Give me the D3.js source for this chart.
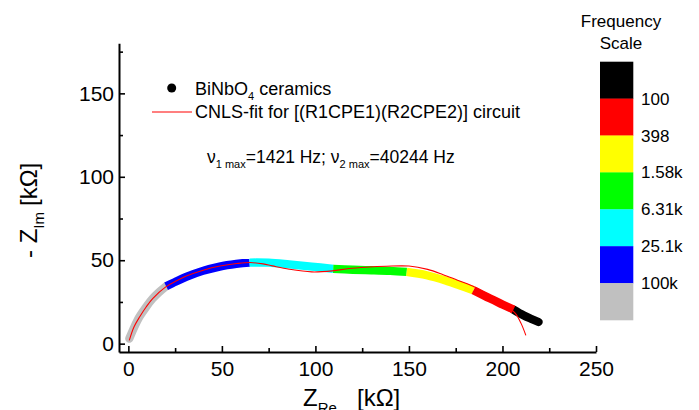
<!DOCTYPE html>
<html><head><meta charset="utf-8">
<script src="https://cdn.jsdelivr.net/npm/d3@7"></script>
<style>
body{margin:0;background:#fff;}
svg{display:block;font-family:"Liberation Sans",Arial,sans-serif;}
</style></head>
<body><svg id="c" width="699" height="410"></svg>
<script>
// ---- data ----
const zRe = [0.5,3.2,5.9,9.5,13,16.6,20.2, 25.5,30.9,39.8,48.8,57.7,64.8, 75,86,98,109.5, 120,130,140,148.8, 159.5,170.2,177,184.5, 193.4,200,205.9, 211.2,215.5,219.3];
const zIm = [3,10,16,22,27,31,34.4, 37.3,40,43.6,46.2,47.8,48.6, 48.5,47.5,46.2,44.8, 44.3,44,43.6,43, 41,37.6,35,32, 27,23.5,20.4, 17,14.8,13];
const band = [0,0,0,0,0,0,0, 1,1,1,1,1,1, 2,2,2,2, 3,3,3,3, 4,4,4,4, 5,5,5, 6,6,6];
const fitRe = [0.5,3,6,9.5,13,20,25.5,31,40,49,58,65,72,77,86,98,109,118,127,138,150,160,168,176,183,190,197,203,207,210,212.5];
const fitIm = [2,10,16,22,27,34,37.5,40.5,44,46.5,48,48.6,47.8,46.6,44.6,43,43.6,45,45.8,46.4,46.5,44.5,41.5,38,35,31,26.5,22,18,12,5];
const bandColors = ["#c0c0c0","#0000ff","#00ffff","#00ff00","#ffff00","#ff0000","#000000"];
const scaleColors = ["#000000","#ff0000","#ffff00","#00ff00","#00ffff","#0000ff","#c0c0c0"];
const scaleLabels = ["100","398","1.58k","6.31k","25.1k","100k"];
const xMajor = [0,50,100,150,200,250];
const xMinor = [25,75,125,175,225];
const yMajor = [0,50,100,150];
const yMinor = [25,75,125,175];

const svg = d3.select("#c");
const x = d3.scaleLinear().domain([-5,250]).range([119,596]);
const y = d3.scaleLinear().domain([-5,180]).range([352,43.3]);

// axes
const gx = svg.append("g").attr("transform","translate(0,352)");
gx.call(d3.axisBottom(x).tickValues(xMajor).tickSizeInner(-6).tickSizeOuter(0).tickPadding(9).tickFormat(d3.format("d")));
const gxm = svg.append("g").attr("transform","translate(0,352)");
gxm.call(d3.axisBottom(x).tickValues(xMinor).tickSizeInner(-4).tickSizeOuter(0).tickFormat(""));
gxm.select(".domain").remove();
const gy = svg.append("g").attr("transform","translate(119,0)");
gy.call(d3.axisLeft(y).tickValues(yMajor).tickSizeInner(-6).tickSizeOuter(0).tickPadding(5).tickFormat(d3.format("d")));
const gym = svg.append("g").attr("transform","translate(119,0)");
gym.call(d3.axisLeft(y).tickValues(yMinor).tickSizeInner(-4).tickSizeOuter(0).tickFormat(""));
gym.select(".domain").remove();
svg.selectAll(".domain").attr("stroke","#000").attr("stroke-width",2);
svg.selectAll(".tick line").attr("stroke","#000").attr("stroke-width",1.6);
svg.selectAll(".tick text").attr("font-size",21).attr("fill","#000").attr("font-family","Liberation Sans, Arial, sans-serif");

// data bands
const pts = zRe.map((v,i)=>({x:v,y:zIm[i],b:band[i]}));
const line = d3.line().x(d=>x(d.x)).y(d=>y(d.y)).curve(d3.curveCatmullRom);
const order = [0,1,2,3,4,6,5];
order.forEach(k=>{
  const seg = pts.filter(p=>p.b===k);
  const prev = pts.filter(p=>p.b===k-1);
  if(prev.length) seg.unshift(prev[prev.length-1]);
  svg.append("path").attr("d",line(seg)).attr("fill","none")
    .attr("stroke",bandColors[k]).attr("stroke-width",8.3)
    .attr("stroke-linecap",(k===0||k===6)?"round":"butt");
});

// fit
const fitPts = fitRe.map((v,i)=>({x:v,y:fitIm[i]}));
svg.append("path").attr("d",line(fitPts)).attr("fill","none").attr("stroke","#ff0000").attr("stroke-width",1.1);

// legend
svg.append("circle").attr("cx",171.7).attr("cy",88).attr("r",4.5).attr("fill","#000");
const t1 = svg.append("text").attr("x",195).attr("y",95).attr("font-size",18);
t1.append("tspan").text("BiNbO");
t1.append("tspan").attr("font-size",11).attr("dy",5).text("4");
t1.append("tspan").attr("dy",-5).text(" ceramics");
svg.append("line").attr("x1",152).attr("x2",192).attr("y1",112).attr("y2",112).attr("stroke","#ff0000").attr("stroke-width",1.1);
svg.append("text").attr("x",195).attr("y",118).attr("font-size",18).text("CNLS-fit for [(R1CPE1)(R2CPE2)] circuit");

// annotation
const an = svg.append("text").attr("x",207).attr("y",163).attr("font-size",17.5);
an.append("tspan").text("\u03bd");
an.append("tspan").attr("font-size",11).attr("dy",5).text("1 max");
an.append("tspan").attr("dy",-5).text("=1421 Hz; \u03bd");
an.append("tspan").attr("font-size",11).attr("dy",5).text("2 max");
an.append("tspan").attr("dy",-5).text("=40244 Hz");

// axis titles
const xt = svg.append("text").attr("x",303).attr("y",406).attr("font-size",24);
xt.append("tspan").text("Z");
xt.append("tspan").attr("font-size",15).attr("dy",7).text("Re");
xt.append("tspan").attr("x",357).attr("dy",-7).text("[k\u03a9]");
const yt = svg.append("text").attr("transform","translate(37,0) rotate(-90)").attr("x",-258).attr("y",0).attr("font-size",24);
yt.append("tspan").text("- Z");
yt.append("tspan").attr("font-size",15).attr("dy",7).text("Im");
yt.append("tspan").attr("x",-206).attr("dy",-7).text("[k\u03a9]");

// frequency scale
svg.append("text").attr("x",621).attr("y",27).attr("text-anchor","middle").attr("font-size",17).text("Frequency");
svg.append("text").attr("x",621).attr("y",49).attr("text-anchor","middle").attr("font-size",17).text("Scale");
const cb = d3.scaleBand().domain(d3.range(scaleColors.length)).range([61.7,320]).paddingInner(0).paddingOuter(0);
svg.selectAll("rect.cb").data(scaleColors).enter().append("rect").attr("class","cb")
  .attr("x",600).attr("width",33.3).attr("y",(d,i)=>cb(i)).attr("height",cb.bandwidth()+0.3).attr("fill",d=>d);
svg.selectAll("text.cbl").data(scaleLabels).enter().append("text").attr("class","cbl")
  .attr("x",641).attr("y",(d,i)=>cb(i+1)+6).attr("font-size",17).text(d=>d);
</script></body></html>
